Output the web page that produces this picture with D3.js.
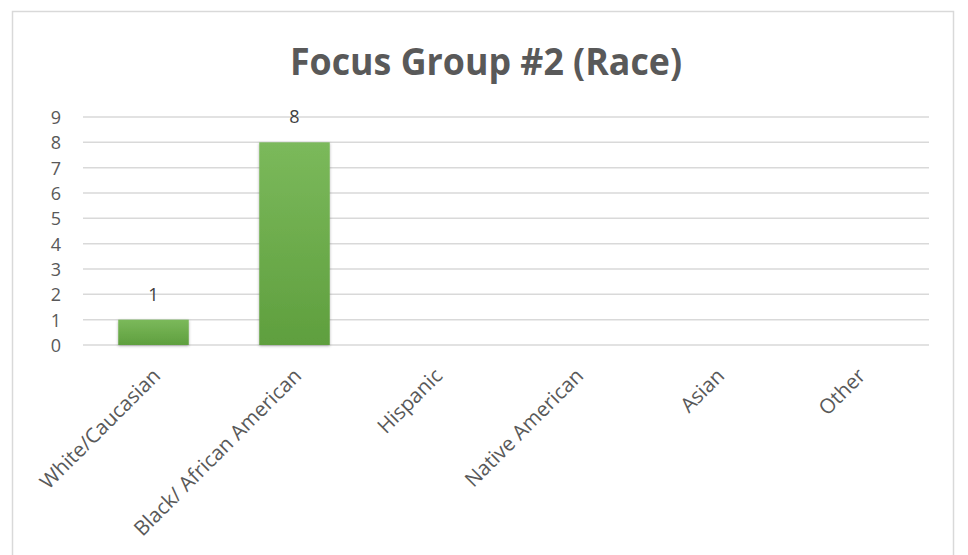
<!DOCTYPE html>
<html>
<head>
<meta charset="utf-8">
<script src="https://cdn.jsdelivr.net/npm/d3@7"></script>
<style>
  body { margin: 0; background: #fff; }
  text { font-family: "Open Sans", sans-serif; }
</style>
</head>
<body>
<svg width="968" height="555"></svg>
<script>
var categories = ["White/Caucasian", "Black/ African American", "Hispanic", "Native American", "Asian", "Other"];
var counts = [1, 8, 0, 0, 0, 0];
var yTicks = [0, 1, 2, 3, 4, 5, 6, 7, 8, 9];
var title = "Focus Group #2 (Race)";

var svg = d3.select("svg"),
    width = +svg.attr("width"),
    height = +svg.attr("height");

var margin = {top: 117, right: 39, bottom: 210, left: 83};

var x = d3.scaleBand()
    .domain(categories)
    .range([margin.left, width - margin.right])
    .paddingInner(0.5)
    .paddingOuter(0.25);

var y = d3.scaleLinear()
    .domain([0, 9])
    .range([height - margin.bottom, margin.top]);

// chart frame
svg.append("rect")
    .attr("x", 12.5).attr("y", 11.5)
    .attr("width", 941).attr("height", 560)
    .attr("fill", "#fff")
    .attr("stroke", "#d9d9d9")
    .attr("stroke-width", 1.5);

var defs = svg.append("defs");
var grad = defs.append("linearGradient")
    .attr("id", "barGrad")
    .attr("x1", 0).attr("y1", 0).attr("x2", 0).attr("y2", 1);
grad.append("stop").attr("offset", "0%").attr("stop-color", "#7bb95b");
grad.append("stop").attr("offset", "100%").attr("stop-color", "#5f9f3e");

var shadow = defs.append("filter").attr("id", "shadow")
    .attr("x", "-20%").attr("y", "-20%").attr("width", "140%").attr("height", "140%");
shadow.append("feDropShadow")
    .attr("dx", 0).attr("dy", 1).attr("stdDeviation", 1.5)
    .attr("flood-color", "#000").attr("flood-opacity", 0.3);

// title
svg.append("text")
    .attr("x", 486)
    .attr("y", 75)
    .attr("text-anchor", "middle")
    .attr("fill", "#595959")
    .attr("font-size", 38)
    .attr("font-weight", "bold")
    .attr("textLength", 392)
    .attr("lengthAdjust", "spacingAndGlyphs")
    .text(title);

// gridlines
svg.append("g")
    .selectAll("line")
    .data(yTicks)
    .enter().append("line")
    .attr("x1", margin.left)
    .attr("x2", width - margin.right)
    .attr("y1", function (d) { return y(d); })
    .attr("y2", function (d) { return y(d); })
    .attr("stroke", "#d9d9d9")
    .attr("stroke-width", 1.5);

// y axis labels
var yAxis = svg.append("g")
    .attr("transform", "translate(" + (margin.left - 22) + ",0)")
    .call(d3.axisLeft(y).tickValues(yTicks).tickSize(0).tickPadding(0));
yAxis.select(".domain").remove();
yAxis.selectAll("text")
    .attr("fill", "#595959")
    .attr("font-size", 18)
    .attr("font-family", "Open Sans, sans-serif")
    .attr("dy", "0.36em");

// bars
svg.append("g")
    .selectAll("rect")
    .data(counts.map(function (d, i) { return {c: categories[i], v: d}; })
        .filter(function (d) { return d.v > 0; }))
    .enter().append("rect")
    .attr("x", function (d) { return x(d.c); })
    .attr("y", function (d) { return y(d.v); })
    .attr("width", x.bandwidth())
    .attr("height", function (d) { return y(0) - y(d.v); })
    .attr("fill", "url(#barGrad)")
    .attr("filter", "url(#shadow)");

// value labels
svg.append("g")
    .selectAll("text")
    .data(counts.map(function (d, i) { return {c: categories[i], v: d}; })
        .filter(function (d) { return d.v > 0; }))
    .enter().append("text")
    .attr("x", function (d) { return x(d.c) + x.bandwidth() / 2; })
    .attr("y", function (d) { return y(d.v) - 19; })
    .attr("text-anchor", "middle")
    .attr("fill", "#404040")
    .attr("font-size", 18)
    .text(function (d) { return d.v; });

// x axis labels
var xAxis = svg.append("g")
    .attr("transform", "translate(0," + (y(0) + 27) + ")")
    .call(d3.axisBottom(x).tickSize(0).tickPadding(0));
xAxis.select(".domain").remove();
xAxis.selectAll("text")
    .attr("fill", "#595959")
    .attr("font-size", 20.5)
    .attr("font-family", "Open Sans, sans-serif")
    .attr("text-anchor", "end")
    .attr("y", 0)
    .attr("dy", "0.35em")
    .attr("transform", "translate(3,0) rotate(-45)");
</script>
</body>
</html>
